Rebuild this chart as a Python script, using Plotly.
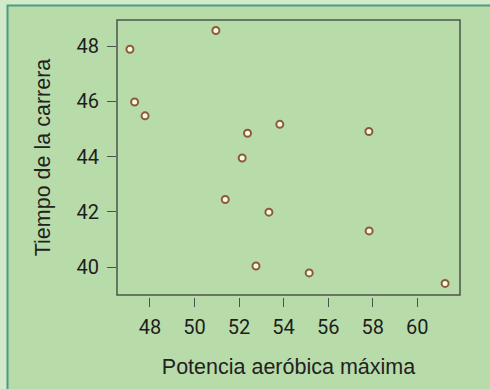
import plotly.graph_objects as go

potencia = [47.10, 50.96, 47.31, 47.78, 52.38, 53.83, 57.83, 52.14, 51.38, 53.34, 57.84, 52.76, 55.15, 61.25]
tiempo = [47.89, 48.57, 45.98, 45.48, 44.85, 45.17, 44.91, 43.95, 42.45, 41.99, 41.31, 40.04, 39.79, 39.41]
x_ticks = [48, 50, 52, 54, 56, 58, 60]
y_ticks = [40, 42, 44, 46, 48]
x_title = "Potencia aeróbica máxima"
y_title = "Tiempo de la carrera"

W, H = 490, 389
L, R, T, B = 117, 30, 20, 92
pw, ph = W - L - R, H - T - B

inner = "#b8dca9"
outer = "#d2e9ca"
edge = "#4c9a84"
frame = "#4a544a"
tick_font = dict(family="Liberation Sans Narrow, Roboto, sans-serif", size=20, color="#1e1e1e")
title_font = dict(family="Liberation Sans, Arial, sans-serif", size=21.5, color="#222222")

fig = go.Figure(go.Scatter(
    x=potencia, y=tiempo, mode="markers",
    marker=dict(size=7, color="#fdfbe2", line=dict(color="#8c5a3a", width=2)),
    hoverinfo="skip"))

gap = 2 / ph
fig.update_layout(
    width=W, height=H,
    margin=dict(l=L, r=R, t=T, b=B, pad=0),
    paper_bgcolor=outer, plot_bgcolor=inner,
    showlegend=False,
    xaxis=dict(range=[46.52, 61.92], tickvals=x_ticks, ticks="outside", ticklen=9,
               tickwidth=1.3, tickcolor=frame, showgrid=False, zeroline=False, showline=False,
               tickfont=tick_font, anchor="free", position=0, ticklabelstandoff=3,
               title=dict(text=x_title, font=title_font, standoff=20)),
    yaxis=dict(range=[38.99, 48.95], tickvals=y_ticks, ticks="outside", ticklen=9,
               tickwidth=1.3, tickcolor=frame, showgrid=False, zeroline=False, showline=False,
               tickfont=tick_font, domain=[gap, 1], ticklabelstandoff=4,
               title=dict(text=y_title, font=title_font, standoff=19)),
    shapes=[
        dict(type="rect", xref="paper", yref="paper", layer="below",
             x0=(7.5 - L) / pw, x1=(W + 10 - L) / pw,
             y0=-(B + 10) / ph, y1=(ph + T - 5.5) / ph,
             fillcolor=inner, line=dict(color=edge, width=2)),
        dict(type="rect", xref="x domain", yref="y domain", x0=0, x1=1, y0=0, y1=1,
             line=dict(color=frame, width=1.5), layer="above"),
    ],
)

fig.write_html("out.html", config={"displayModeBar": False},
               post_script="document.body.style.margin='0';document.body.style.overflow='hidden';")
